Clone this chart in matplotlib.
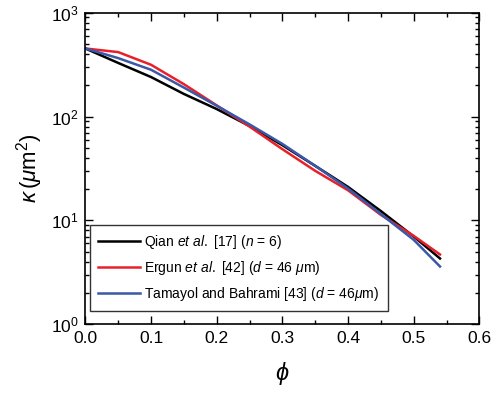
import matplotlib
matplotlib.use("Agg")
import matplotlib.pyplot as plt
from matplotlib.ticker import MultipleLocator, LogLocator, NullFormatter

plt.rcParams['font.family'] = ['Liberation Sans', 'DejaVu Sans']
plt.rcParams['mathtext.fontset'] = 'custom'
plt.rcParams['mathtext.rm'] = 'Liberation Sans'
plt.rcParams['mathtext.it'] = 'Liberation Sans:italic'
plt.rcParams['mathtext.bf'] = 'Liberation Sans:bold'

phi = [0.0, 0.05, 0.10, 0.15, 0.20, 0.25, 0.30, 0.35, 0.40, 0.45, 0.50, 0.54]
qian = [452, 328, 240, 165, 118, 81, 53, 33.5, 21, 12.3, 7.0, 4.3]
ergun = [452, 417, 315, 205, 128, 80, 48.5, 30, 19.5, 11.3, 7.1, 4.7]
tamayol = [452, 365, 282, 190, 127, 84, 54.5, 33.5, 20.3, 11.5, 6.5, 3.6]

labels = [r"Qian $\mathit{et\ al.}$ [17] ($\mathit{n}$ = 6)",
          r"Ergun $\mathit{et\ al.}$ [42] ($\mathit{d}$ = 46 $\mathit{\mu}$m)",
          r"Tamayol and Bahrami [43] ($\mathit{d}$ = 46$\mathit{\mu}$m)"]
colors = ['#000000', '#e8202a', '#3b58a8']

fig = plt.figure(figsize=(5.02, 3.95), dpi=100)
ax = fig.add_axes([0.170, 0.179, 0.785, 0.789])

for ys, c, lab in zip([qian, ergun, tamayol], colors, labels):
    ax.plot(phi, ys, color=c, lw=1.8, label=lab)

ax.set_yscale('log')
ax.set_xlim(0, 0.6)
ax.set_ylim(1, 1000)
ax.xaxis.set_major_locator(MultipleLocator(0.1))
ax.xaxis.set_minor_locator(MultipleLocator(0.05))
ax.xaxis.set_major_formatter(matplotlib.ticker.FormatStrFormatter('%.1f'))
ax.yaxis.set_major_locator(LogLocator(base=10, numticks=10))
ax.yaxis.set_minor_locator(LogLocator(base=10, subs=range(2, 10), numticks=20))
ax.yaxis.set_minor_formatter(NullFormatter())

ax.tick_params(which='both', direction='in', top=True, right=True, labelsize=12.5, width=1.0)
ax.tick_params(which='major', length=6)
ax.tick_params(which='minor', length=3)
ax.tick_params(axis='x', pad=5)
ax.tick_params(axis='y', pad=5)
for s in ax.spines.values():
    s.set_linewidth(1.2)

ax.set_xlabel(r"$\phi$", fontsize=17, family='DejaVu Serif', labelpad=10)
ax.set_ylabel(r"$\kappa\,(\mu$m$^2)$", fontsize=16, labelpad=4)

leg = ax.legend(loc='lower left', bbox_to_anchor=(0.012, 0.043), borderaxespad=0,
                fontsize=10, frameon=True, fancybox=False, handlelength=3.0,
                handletextpad=0.3, labelspacing=0.55, borderpad=0.6)
leg.get_frame().set_edgecolor('black')
leg.get_frame().set_linewidth(1.0)

fig.savefig('out.png', dpi=100)
